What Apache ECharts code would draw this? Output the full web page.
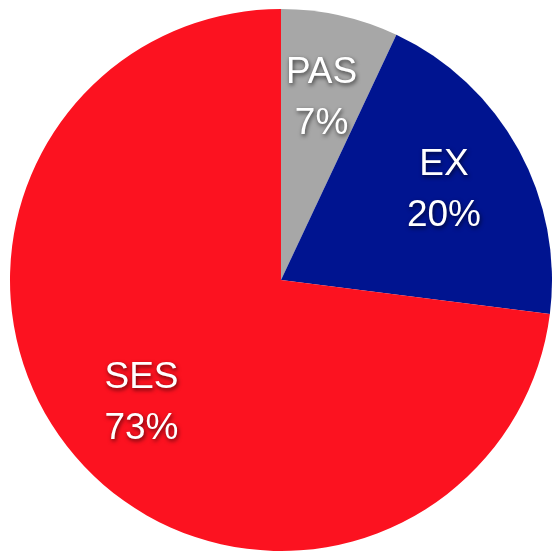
<!DOCTYPE html>
<html>
<head>
<meta charset="utf-8">
<style>
  html, body { margin: 0; padding: 0; background: #ffffff; }
  #chart { width: 552px; height: 551px; }
</style>
<script src="https://cdn.jsdelivr.net/npm/echarts@6/dist/echarts.min.js"></script>
</head>
<body>
<div id="chart"></div>
<script>
// Share of each group, clockwise from 12 o'clock
const categories = ['PAS', 'EX', 'SES'];
const shares = [7, 20, 73];
const sliceColors = ['#a7a7a7', '#001490', '#fc1220'];

const slices = categories.map((name, i) => ({
  name: name,
  value: shares[i],
  itemStyle: { color: sliceColors[i] }
}));

const center = [281, 280];
const outerR = 271;

const chart = echarts.init(document.getElementById('chart'), null, { renderer: 'canvas' });
chart.setOption({
  animation: false,
  backgroundColor: '#ffffff',
  series: [
    {
      // filled wedges
      type: 'pie',
      center: center,
      radius: [0, outerR],
      startAngle: 90,
      clockwise: true,
      silent: true,
      label: { show: false },
      labelLine: { show: false },
      data: slices
    },
    {
      // invisible ring that places the name/percent labels two thirds out
      type: 'pie',
      center: center,
      radius: [95, outerR],
      startAngle: 90,
      clockwise: true,
      silent: true,
      itemStyle: { color: 'rgba(0,0,0,0)' },
      labelLine: { show: false },
      label: {
        show: true,
        position: 'inside',
        formatter: '{b}\n{d}%',
        color: '#ffffff',
        fontFamily: 'Liberation Sans, Arial, Helvetica, sans-serif',
        fontSize: 37,
        lineHeight: 51,
        align: 'center',
        textShadowColor: 'rgba(0,0,0,0.65)',
        textShadowBlur: 4,
        textShadowOffsetX: 1,
        textShadowOffsetY: 2,
        textBorderWidth: 0
      },
      data: categories.map((name, i) => ({ name: name, value: shares[i] }))
    }
  ]
});
</script>
</body>
</html>
